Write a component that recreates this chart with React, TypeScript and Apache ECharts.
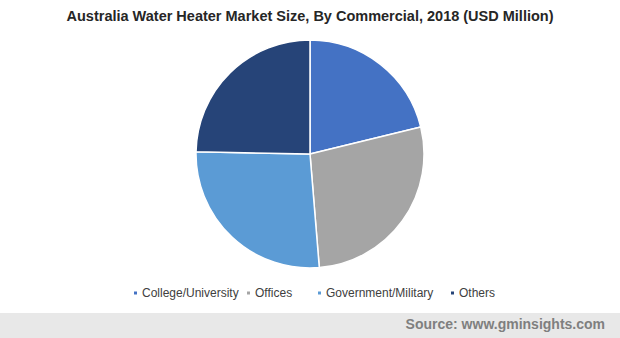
import React, { useEffect, useRef } from "react";
import * as echarts from "echarts";

const categories = ["College/University", "Offices", "Government/Military", "Others"];
const values = [21.2, 27.5, 26.6, 24.7];
const colors = ["#4472C4", "#A5A5A5", "#5B9BD5", "#264478"];
const legendLeft = [127, 240, 311, 444];

const FONT = "'Liberation Sans', Arial, sans-serif";

export default function App() {
  const ref = useRef<HTMLDivElement>(null);
  useEffect(() => {
    if (!ref.current) return;
    const chart = echarts.init(ref.current, null, { renderer: "svg" });
    chart.setOption({
      animation: false,
      backgroundColor: "#ffffff",
      title: {
        text: "Australia Water Heater Market Size, By Commercial, 2018 (USD Million)",
        left: "center",
        top: 3,
        textStyle: { fontFamily: FONT, fontSize: 14.5, fontWeight: "bold", color: "#262626" },
      },
      legend: categories.map((c, i) => ({
        data: [c],
        left: legendLeft[i],
        top: 282,
        icon: "rect",
        itemWidth: 5,
        itemHeight: 5,
        itemGap: 0,
        textStyle: { fontFamily: FONT, fontSize: 12, color: "#404040", padding: [0, 0, 0, -1] },
        selectedMode: false,
      })),
      graphic: [
        {
          type: "rect",
          left: 0,
          top: 313,
          shape: { width: 620, height: 25 },
          style: { fill: "#E8E8E8" },
          silent: true,
        },
        {
          type: "text",
          right: 15,
          top: 317,
          style: {
            text: "Source: www.gminsights.com",
            fontFamily: FONT,
            fontSize: 14,
            fontWeight: "bold",
            fill: "#7F7F7F",
          },
        },
      ],
      series: [
        {
          type: "pie",
          center: [310, 154],
          radius: 114,
          startAngle: 90,
          clockwise: true,
          label: { show: false },
          labelLine: { show: false },
          itemStyle: { borderColor: "#ffffff", borderWidth: 1.5 },
          emphasis: { disabled: true },
          data: categories.map((c, i) => ({ name: c, value: values[i], itemStyle: { color: colors[i] } })),
        },
      ],
    });
    return () => chart.dispose();
  }, []);
  return <div ref={ref} style={{ width: 620, height: 338, position: "absolute", left: 0, top: 0 }} />;
}
